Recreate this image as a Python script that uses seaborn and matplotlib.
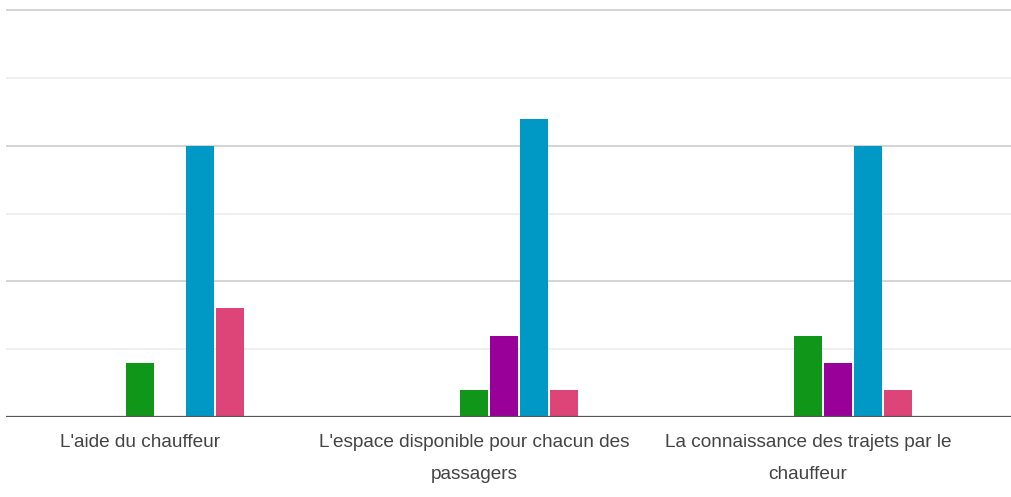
import numpy as np
import matplotlib.pyplot as plt
import pandas as pd
import seaborn as sns

criteres = ["L'aide du chauffeur",
            "L'espace disponible pour chacun des\npassagers",
            "La connaissance des trajets par le\nchauffeur"]
series = ['1', '2', '3', '4', '5', '6', '7']
couleurs = ['#3366cc', '#dc3912', '#ff9900', '#109618', '#990099', '#0099c6', '#dd4477']

s1 = [0, 0, 0]
s2 = [0, 0, 0]
s3 = [0, 0, 0]
s4 = [2, 1, 3]
s5 = [0, 3, 2]
s6 = [10, 11, 10]
s7 = [4, 1, 1]

rows = []
for nom, vals in zip(series, [s1, s2, s3, s4, s5, s6, s7]):
    for c, v in zip(criteres, vals):
        rows.append({'critere': c, 'serie': nom, 'valeur': v})
dframe = pd.DataFrame(rows)

sns.set_style('white')
plt.rcParams['font.family'] = ['Liberation Sans', 'DejaVu Sans']

fig = plt.figure(figsize=(10.12, 4.97), dpi=100)
ax = fig.add_axes([6 / 1012, 80 / 497, 1 - 6 / 1012, 417 / 497])

sns.barplot(data=dframe, x='critere', y='valeur', hue='serie', order=criteres,
            hue_order=series, palette=couleurs, saturation=1, width=0.629, gap=0.067,
            linewidth=0, legend=False, ax=ax, zorder=3)

ax.set_xlim(-134 / 334, 872 / 334)
ax.set_ylim(0, 15 * 417 / 407)
ax.set_yticks([0, 5, 10, 15])
ax.set_yticks([2.5, 7.5, 12.5], minor=True)
ax.yaxis.grid(True, which='major', color='#d4d4d4', lw=1.4, zorder=0)
ax.yaxis.grid(True, which='minor', color='#ececec', lw=1.2, zorder=0)
ax.set_axisbelow(True)
ax.axhline(0, color='#555555', lw=1.6, zorder=4)
ax.tick_params(axis='y', which='both', left=False, labelleft=False)
ax.tick_params(axis='x', length=0, pad=12, labelsize=13.7, labelcolor='#444444')
for lab in ax.get_xticklabels():
    lab.set_linespacing(2.15)
ax.set_xlabel('')
ax.set_ylabel('')
sns.despine(ax=ax, left=True, bottom=True)

plt.savefig('out.png', dpi=100)
plt.close()
